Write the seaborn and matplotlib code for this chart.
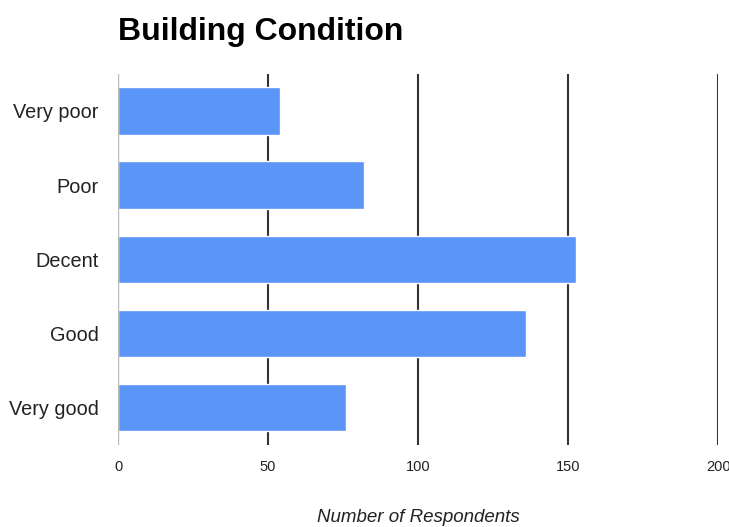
import matplotlib
matplotlib.use('Agg')
import matplotlib.pyplot as plt
import seaborn as sns
import pandas as pd

# Survey answers
conditions = ['Very poor', 'Poor', 'Decent', 'Good', 'Very good']
respondents = [54, 82, 152.5, 136, 76]

df = pd.DataFrame({'condition': conditions, 'respondents': respondents})

sns.set_style('white')
plt.rcParams['font.family'] = ['Liberation Sans', 'DejaVu Sans']

fig = plt.figure(figsize=(7.29, 5.27), dpi=100)
ax = fig.add_axes([0.162, 0.156, 0.823, 0.704])

sns.barplot(data=df, x='respondents', y='condition', orient='h',
            color='#5b95f7', saturation=1, width=0.64, ax=ax, zorder=3)

ax.set_xlim(0, 200)
ax.set_ylim(4.5, -0.5)
ax.set_xticks([0, 50, 100, 150, 200])

# vertical gridlines
for v in [50, 100, 150, 200]:
    ax.axvline(v, color='#333333', lw=1.5, zorder=1)
ax.axvline(0, color='#bbbbbb', lw=1, zorder=4)

for s in ax.spines.values():
    s.set_visible(False)

ax.tick_params(axis='x', length=0, pad=11, labelsize=10.5, labelcolor='#222222')
ax.tick_params(axis='y', length=0, pad=14, labelsize=14.3, labelcolor='#222222')

ax.set_ylabel('')
ax.set_xlabel('Number of Respondents', fontsize=13.5, style='italic',
              color='#222222', labelpad=25)
fig.text(0.162, 0.925, 'Building Condition', fontsize=23, fontweight='bold',
         ha='left', va='baseline', color='black')

fig.savefig('out.png', dpi=100)
